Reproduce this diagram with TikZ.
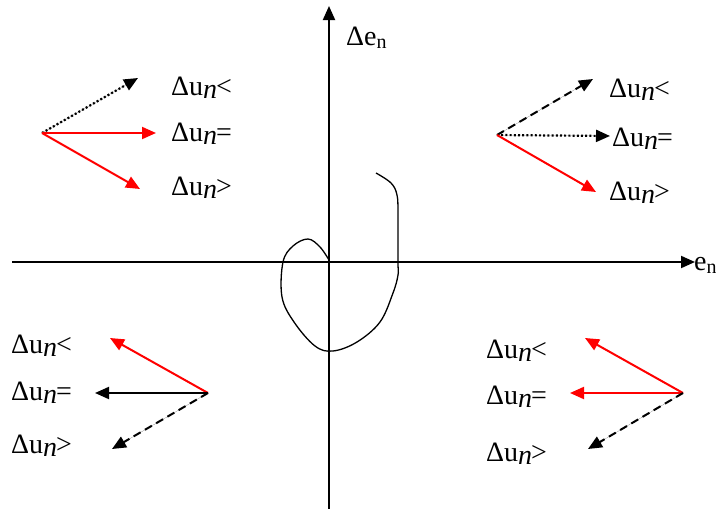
\documentclass[tikz,border=0pt]{standalone}
\usepackage{fontspec}
\setmainfont{Liberation Serif}
\usetikzlibrary{arrows.meta}
\definecolor{vecred}{RGB}{255,0,0}
\newcommand{\dun}[1]{Δu\raisebox{-0.25ex}{\itshape n}\kern-0.04em#1}

\begin{document}
\begin{tikzpicture}[
      x=1pt, y=-1pt,
      tip/.style={-{Triangle[length=14pt,width=12pt]}},
      axis/.style={tip, line width=2pt, draw=black},
      redvec/.style={tip, line width=2pt, draw=vecred, fill=vecred},
      blackvec/.style={tip, line width=2pt, draw=black, fill=black},
      dotvec/.style={tip, line width=2.2pt, dash pattern=on 2pt off 2.2pt, draw=black, fill=black},
      dashvec/.style={tip, line width=2pt, dash pattern=on 8pt off 5pt, draw=black, fill=black},
      lbl/.style={anchor=base west, inner sep=0pt, font=\fontsize{28}{30}\selectfont}
    ]
      \useasboundingbox (0,0) rectangle (716,509);
      % axes
      \coordinate (xs) at (12,262);
      \coordinate (xe) at (695,262);
      \coordinate (ys) at (329,509);
      \coordinate (ye) at (329,6);
      \draw[axis] (xs) -- (xe);
      \draw[axis] (ys) -- (ye);
      \node[lbl] (en) at (694,270) {e\raisebox{-0.3ex}{\fontsize{20}{22}\selectfont n}};
      \node[lbl] (den) at (346,45) {Δe\raisebox{-0.3ex}{\fontsize{20}{22}\selectfont n}};

      % upper left
      \coordinate (ul) at (42,133);
      \coordinate (ul1) at (138,78);
      \coordinate (ul2) at (156,133);
      \coordinate (ul3) at (140,189);
      \draw[dotvec] (ul) -- (ul1);
      \draw[redvec] (ul) -- (ul2);
      \draw[redvec] (ul) -- (ul3);
      \node[lbl] (ula) at (171,95) {\dun{<}};
      \node[lbl] (ulb) at (171,141) {\dun{=}};
      \node[lbl] (ulc) at (171,195) {\dun{>}};

      % upper right
      \coordinate (ur) at (497,135);
      \coordinate (ur1) at (593,79);
      \coordinate (ur2) at (610,136);
      \coordinate (ur3) at (596,192);
      \draw[dashvec] (ur) -- (ur1);
      \draw[dotvec] (ur) -- (ur2);
      \draw[redvec] (ur) -- (ur3);
      \node[lbl] (ura) at (609,97) {\dun{<}};
      \node[lbl] (urb) at (612,146) {\dun{=}};
      \node[lbl] (urc) at (609,200) {\dun{>}};

      % lower left
      \coordinate (ll) at (208,393);
      \coordinate (ll1) at (110,338);
      \coordinate (ll2) at (95,393);
      \coordinate (ll3) at (112,449);
      \draw[redvec] (ll) -- (ll1);
      \draw[blackvec] (ll) -- (ll2);
      \draw[dashvec] (ll) -- (ll3);
      \node[lbl] (lla) at (11,353) {\dun{<}};
      \node[lbl] (llb) at (11,400) {\dun{=}};
      \node[lbl] (llc) at (11,453) {\dun{>}};

      % lower right
      \coordinate (lr) at (683,393);
      \coordinate (lr1) at (585,338);
      \coordinate (lr2) at (570,393);
      \coordinate (lr3) at (588,449);
      \draw[redvec] (lr) -- (lr1);
      \draw[redvec] (lr) -- (lr2);
      \draw[dashvec] (lr) -- (lr3);
      \node[lbl] (lra) at (486,358) {\dun{<}};
      \node[lbl] (lrb) at (486,404) {\dun{=}};
      \node[lbl] (lrc) at (486,461) {\dun{>}};

      % trajectory
      \draw[line width=1.3pt] plot[smooth, tension=0.6] coordinates {
        (376,173) (391,183) (397,195) (398,215) (398,262) (398,275) (393,293)
        (380,322) (357,342) (333,351) (315,346) (294,322) (282,297) (283,262)
        (293,246) (308,239) (320,247) (329,260)};
    \end{tikzpicture}
\end{document}
